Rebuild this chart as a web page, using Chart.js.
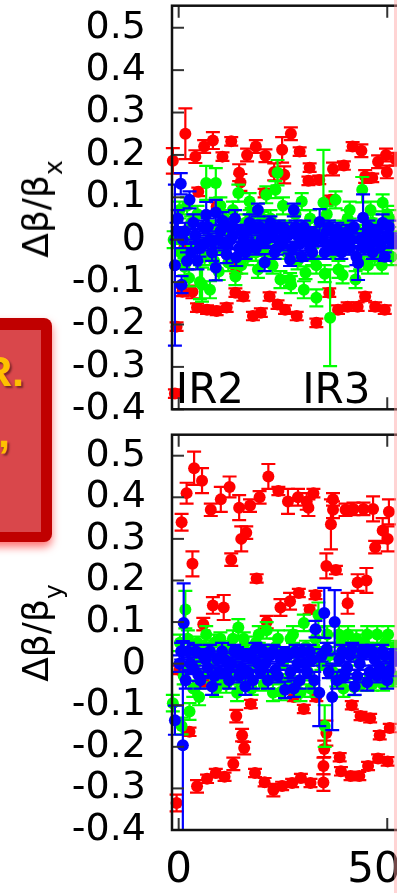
<!DOCTYPE html>
<html>
<head>
<meta charset="utf-8">
<script src="https://cdn.jsdelivr.net/npm/chart.js@4.4.1/dist/chart.umd.min.js"></script>
<style>
  html, body { margin: 0; padding: 0; background: #fff; }
  body { position: relative; width: 397px; height: 893px; overflow: hidden; font-family: 'DejaVu Sans', sans-serif; }
  canvas { position: absolute; left: 0; }
  #topChart { top: -26px; }
  #botChart { top: 403px; }
  .ytitle { position: absolute; left: 36px; transform: translate(-50%, -50%) rotate(-90deg);
            font-size: 36px; line-height: 36px; white-space: nowrap; color: #000; }
  .ytitle sub { font-size: 25px; vertical-align: -14px; line-height: 0; }
  #box { position: absolute; left: -20px; top: 318px; width: 72px; height: 224px; background: #c00000;
         border-radius: 8px; box-shadow: 0 5px 8px rgba(255, 0, 0, 0.55); }
  #boxInner { position: absolute; left: -20px; top: 330px; width: 61px; height: 202px; background: #d9474b; }
  .boxText { position: absolute; font-family: 'Liberation Sans', sans-serif; font-weight: bold; font-size: 43px;
             line-height: 43px; color: #ffc000; text-shadow: 2px 2px 2px rgba(0, 0, 0, 0.45); white-space: nowrap; }
  #edge { position: absolute; left: 394px; top: 0; width: 3px; height: 893px; background: rgba(255, 160, 160, 0.45); }
</style>
</head>
<body>
<canvas id="topChart" width="460" height="467"></canvas>
<canvas id="botChart" width="460" height="490"></canvas>
<div class="ytitle" style="top: 209px;">Δβ/β<sub>x</sub></div>
<div class="ytitle" style="top: 633px;">Δβ/β<sub>y</sub></div>
<div id="box"></div>
<div id="boxInner"></div>
<div class="boxText" style="right: 373px; top: 350px;">R.</div>
<div class="boxText" style="right: 387px; top: 411px;">,</div>
<div id="edge"></div>
<script>
// axis ticks
const xTicks = [0, 500];
const xTickLabels = ['0', '500'];
const yTicks = [-0.4, -0.3, -0.2, -0.1, 0, 0.1, 0.2, 0.3, 0.4, 0.5];
const yTickLabels = ['-0.4', '-0.3', '-0.2', '-0.1', '0', '0.1', '0.2', '0.3', '0.4', '0.5'];
const irLabels = ['IR2', 'IR3'];
const irX = [-7, 296];
const irY = -0.385;

// [position, delta beta / beta, error]  -- horizontal plane
const topRed = [
  [-14, 0.186, 0.03], [16, 0.25, 0.06], [40, 0.196, 0.015], [61, 0.22, 0.015], [82, 0.234, 0.02],
  [105, 0.196, 0.01], [126, 0.232, 0.01], [145, 0.158, 0.02], [164, 0.2, 0.015], [185, 0.22, 0.015],
  [208, 0.198, 0.015], [229, 0.16, 0.02], [248, 0.212, 0.03], [253, 0.153, 0.02], [269, 0.25, 0.015],
  [290, 0.208, 0.01], [314, 0.17, 0.01], [311, 0.139, 0.01], [337, 0.141, 0.01], [370, 0.167, 0.015],
  [396, 0.175, 0.01], [417, 0.22, 0.01], [438, 0.21, 0.015], [447, 0.149, 0.015], [464, 0.146, 0.01],
  [478, 0.184, 0.015], [497, 0.2, 0.015], [499, 0.16, 0.015], [520, 0.19, 0.015],
  [148, 0.135, 0.02], [206, 0.11, 0.01], [47, 0.113, 0.01], [91, 0.078, 0.01], [108, 0.035, 0.01],
  [365, 0.094, 0.01], [14, -0.016, 0.01], [138, -0.07, 0.01], [131, -0.054, 0.01],
  [-5, -0.205, 0.01], [-9, -0.363, 0.01], [9, -0.123, 0.01], [33, -0.123, 0.015], [44, -0.16, 0.01],
  [68, -0.165, 0.01], [91, -0.168, 0.01], [115, -0.16, 0.01], [136, -0.125, 0.01], [155, -0.134, 0.01],
  [178, -0.18, 0.01], [197, -0.172, 0.01], [218, -0.134, 0.01], [237, -0.153, 0.01], [255, -0.165, 0.01],
  [283, -0.18, 0.01], [330, -0.196, 0.01], [361, -0.125, 0.01], [382, -0.165, 0.01], [405, -0.158, 0.01],
  [429, -0.158, 0.01], [447, -0.134, 0.01], [471, -0.158, 0.01], [494, -0.165, 0.01]
];
const topGreen = [
  [-12, 0.0, 0.02], [2, 0.07, 0.02], [14, -0.064, 0.02], [30, 0.04, 0.015], [40, -0.02, 0.02],
  [51, -0.1, 0.04], [56, -0.106, 0.04], [66, 0.134, 0.04], [75, -0.118, 0.02], [80, 0.03, 0.015],
  [89, 0.134, 0.035], [96, -0.075, 0.02], [110, 0.05, 0.02], [119, -0.054, 0.02], [125, 0.01, 0.015],
  [136, -0.087, 0.02], [143, 0.11, 0.02], [160, 0.04, 0.02], [175, 0.06, 0.015], [185, -0.03, 0.02],
  [195, 0.02, 0.015], [210, 0.106, 0.02], [220, 0.05, 0.02], [232, 0.118, 0.02], [237, 0.158, 0.03],
  [244, -0.094, 0.02], [255, 0.03, 0.015], [267, -0.094, 0.015], [269, -0.106, 0.02], [280, 0.06, 0.02],
  [290, 0.0, 0.015], [300, -0.118, 0.02], [304, -0.078, 0.015], [315, 0.05, 0.02], [330, -0.137, 0.02],
  [330, -0.06, 0.02], [347, 0.087, 0.125], [363, -0.184, 0.114], [360, 0.03, 0.015], [376, 0.094, 0.02],
  [383, -0.07, 0.02], [393, -0.083, 0.02], [405, 0.05, 0.02], [415, 0.0, 0.02], [424, -0.094, 0.02],
  [440, 0.118, 0.03], [454, -0.06, 0.02], [465, 0.04, 0.02], [475, -0.02, 0.015], [487, -0.06, 0.02],
  [489, 0.087, 0.02], [505, 0.05, 0.02], [515, 0.0, 0.02],
  [5, -0.03, 0.02], [20, 0.08, 0.02], [25, -0.09, 0.02], [35, 0.0, 0.015], [45, 0.06, 0.02],
  [62, -0.04, 0.02], [70, 0.02, 0.015], [85, -0.05, 0.02], [100, 0.08, 0.02], [105, -0.02, 0.015],
  [115, 0.03, 0.015], [130, 0.07, 0.02], [150, -0.06, 0.02], [155, 0.02, 0.015], [165, -0.04, 0.02],
  [170, 0.09, 0.02], [180, 0.0, 0.015], [190, -0.07, 0.02], [200, 0.05, 0.015], [205, -0.03, 0.02],
  [215, 0.0, 0.015], [225, -0.06, 0.02], [240, 0.03, 0.015], [250, 0.08, 0.02], [260, -0.03, 0.015],
  [275, 0.02, 0.015], [285, -0.05, 0.02], [295, 0.09, 0.02], [310, 0.01, 0.015], [320, -0.04, 0.02],
  [340, 0.02, 0.015], [350, -0.08, 0.02], [355, 0.06, 0.02], [370, -0.03, 0.015], [388, 0.03, 0.015],
  [398, -0.02, 0.015], [410, 0.07, 0.02], [430, 0.02, 0.015], [435, -0.05, 0.02], [448, 0.0, 0.015],
  [460, 0.07, 0.02], [470, -0.04, 0.02], [480, 0.03, 0.015], [495, -0.03, 0.015], [500, 0.06, 0.02],
  [510, -0.04, 0.02]
];
const topBlue = [
  [-9, -0.06, 0.19], [5, 0.132, 0.025], [7, -0.106, 0.02], [-5, 0.02, 0.02], [15, 0.02, 0.02],
  [26, 0.094, 0.02], [30, -0.03, 0.02], [40, 0.01, 0.015], [50, -0.02, 0.02], [58, 0.03, 0.015],
  [66, 0.059, 0.03], [75, 0.0, 0.015], [89, 0.064, 0.03], [89, -0.066, 0.03], [100, 0.02, 0.015],
  [110, -0.01, 0.015], [120, 0.03, 0.02], [130, 0.01, 0.015], [138, -0.042, 0.02], [145, -0.02, 0.015],
  [155, 0.0, 0.015], [165, 0.02, 0.015], [175, -0.01, 0.02], [180, 0.03, 0.015], [190, 0.07, 0.015],
  [198, 0.0, 0.015], [206, -0.054, 0.02], [215, 0.02, 0.015], [225, 0.01, 0.015], [235, -0.02, 0.015],
  [245, 0.0, 0.015], [255, 0.025, 0.015], [267, -0.047, 0.015], [276, 0.07, 0.015], [285, 0.01, 0.015],
  [295, -0.04, 0.01], [305, 0.0, 0.015], [315, -0.02, 0.015], [325, 0.015, 0.015], [338, 0.042, 0.03],
  [345, 0.0, 0.015], [355, 0.02, 0.015], [365, -0.01, 0.015], [375, 0.01, 0.015], [385, -0.015, 0.015],
  [395, 0.005, 0.015], [405, 0.02, 0.015], [415, 0.0, 0.015], [426, -0.04, 0.02], [430, -0.055, 0.04],
  [442, 0.052, 0.055], [450, 0.01, 0.015], [460, -0.01, 0.015], [470, 0.015, 0.015], [480, 0.0, 0.015],
  [489, 0.04, 0.02], [494, -0.04, 0.01], [500, 0.01, 0.015], [510, -0.005, 0.015],
  [-2, 0.05, 0.02], [10, 0.0, 0.02], [20, -0.05, 0.02], [35, 0.04, 0.02], [45, -0.05, 0.02],
  [62, -0.01, 0.015], [70, 0.03, 0.02], [80, -0.03, 0.02], [95, 0.0, 0.02], [105, 0.045, 0.02],
  [115, -0.035, 0.02], [125, 0.0, 0.02], [135, 0.05, 0.02], [150, 0.02, 0.015], [160, -0.03, 0.015],
  [170, 0.04, 0.02], [185, -0.02, 0.015], [195, 0.03, 0.015], [210, 0.0, 0.02], [220, 0.04, 0.015],
  [230, -0.03, 0.015], [240, 0.03, 0.015], [250, -0.01, 0.015], [262, 0.01, 0.015], [272, -0.02, 0.015],
  [280, 0.03, 0.015], [290, -0.01, 0.015], [300, 0.03, 0.015], [310, 0.01, 0.015], [320, -0.03, 0.015],
  [330, 0.0, 0.015], [350, -0.03, 0.015], [360, 0.03, 0.015], [370, -0.02, 0.015], [380, 0.025, 0.015],
  [390, -0.03, 0.015], [400, 0.0, 0.015], [410, -0.02, 0.015], [420, 0.03, 0.015], [435, 0.0, 0.015],
  [445, -0.02, 0.015], [455, 0.03, 0.015], [465, -0.03, 0.015], [475, 0.02, 0.015], [485, -0.015, 0.015],
  [505, 0.03, 0.015], [515, 0.0, 0.015]
];

// vertical plane
const botRed = [
  [7, 0.34, 0.02], [19, 0.41, 0.025], [37, 0.47, 0.04], [56, 0.44, 0.03], [33, 0.24, 0.03],
  [77, 0.37, 0.015], [101, 0.395, 0.03], [122, 0.425, 0.025], [145, 0.375, 0.03], [150, 0.30, 0.03],
  [162, 0.315, 0.015], [126, 0.25, 0.015], [171, 0.38, 0.015], [194, 0.40, 0.015], [187, 0.205, 0.01],
  [82, 0.14, 0.02], [108, 0.135, 0.03], [215, 0.45, 0.03], [239, 0.415, 0.01], [262, 0.39, 0.03],
  [286, 0.40, 0.02], [307, 0.39, 0.02], [323, 0.41, 0.01], [311, 0.375, 0.02], [370, 0.395, 0.015],
  [370, 0.37, 0.02], [365, 0.335, 0.06], [400, 0.37, 0.015], [419, 0.372, 0.015], [443, 0.372, 0.015],
  [466, 0.372, 0.03], [489, 0.32, 0.03], [471, 0.28, 0.015], [504, 0.365, 0.03], [501, 0.30, 0.03],
  [244, 0.135, 0.02], [267, 0.15, 0.02], [288, 0.17, 0.01], [328, 0.165, 0.01], [314, 0.13, 0.01],
  [354, 0.235, 0.03], [377, 0.225, 0.01], [405, 0.145, 0.025], [429, 0.195, 0.02], [450, 0.20, 0.03],
  [211, 0.10, 0.015], [59, 0.095, 0.015],
  [-5, -0.335, 0.02], [44, -0.295, 0.015], [68, -0.277, 0.01], [89, -0.263, 0.01], [110, -0.272, 0.01],
  [131, -0.241, 0.015], [152, -0.172, 0.015], [157, -0.203, 0.015], [138, -0.126, 0.015], [173, -0.097, 0.01],
  [183, -0.263, 0.01], [206, -0.285, 0.01], [227, -0.304, 0.015], [248, -0.294, 0.01], [272, -0.287, 0.01],
  [293, -0.275, 0.01], [316, -0.287, 0.01], [300, -0.109, 0.01], [347, -0.246, 0.02], [347, -0.286, 0.02],
  [349, -0.205, 0.02], [354, -0.167, 0.03], [386, -0.225, 0.01], [389, -0.259, 0.01], [412, -0.27, 0.01],
  [433, -0.27, 0.01], [454, -0.246, 0.01], [478, -0.228, 0.01], [501, -0.235, 0.01], [415, -0.10, 0.01],
  [436, -0.126, 0.01], [459, -0.131, 0.01], [482, -0.172, 0.01], [506, -0.155, 0.01], [26, -0.164, 0.01],
  [2, -0.015, 0.01], [61, -0.044, 0.01], [276, -0.08, 0.01], [330, -0.08, 0.01]
];
const botGreen = [
  [-14, -0.095, 0.02], [7, -0.15, 0.02], [16, 0.13, 0.045], [26, -0.115, 0.02], [30, 0.03, 0.02],
  [40, 0.0, 0.015], [49, -0.08, 0.02], [60, 0.04, 0.015], [72, -0.02, 0.015], [85, 0.05, 0.02],
  [95, -0.03, 0.015], [108, 0.02, 0.015], [114, -0.05, 0.02], [125, 0.04, 0.015], [135, 0.0, 0.02],
  [143, 0.087, 0.02], [150, -0.04, 0.015], [162, 0.03, 0.02], [175, -0.06, 0.015], [185, 0.05, 0.015],
  [198, 0.0, 0.02], [211, 0.08, 0.02], [220, -0.03, 0.015], [232, 0.04, 0.02], [245, -0.068, 0.02],
  [255, 0.02, 0.015], [268, 0.06, 0.02], [280, -0.05, 0.02], [300, 0.098, 0.02], [310, -0.02, 0.015],
  [322, 0.03, 0.015], [335, 0.117, 0.03], [350, -0.15, 0.05], [362, 0.02, 0.02], [378, -0.04, 0.015],
  [390, 0.05, 0.02], [400, -0.02, 0.015], [412, 0.04, 0.02], [420, -0.056, 0.02], [432, 0.01, 0.015],
  [445, 0.05, 0.02], [458, -0.03, 0.015], [470, 0.03, 0.015], [482, -0.01, 0.02], [495, 0.05, 0.015],
  [508, 0.0, 0.02], [520, 0.04, 0.015],
  [3, 0.05, 0.02], [12, -0.03, 0.02], [22, 0.06, 0.02], [35, -0.06, 0.02], [45, 0.05, 0.015],
  [55, -0.03, 0.015], [66, 0.07, 0.02], [78, 0.01, 0.015], [90, -0.06, 0.02], [100, 0.06, 0.015],
  [120, -0.02, 0.015], [130, 0.06, 0.02], [140, -0.07, 0.02], [156, 0.06, 0.015], [168, -0.02, 0.015],
  [180, 0.0, 0.015], [192, 0.07, 0.02], [204, -0.05, 0.015], [215, 0.03, 0.015], [226, -0.07, 0.02],
  [238, 0.06, 0.02], [250, 0.0, 0.015], [262, -0.04, 0.015], [274, 0.07, 0.02], [286, 0.02, 0.015],
  [292, -0.07, 0.02], [305, 0.04, 0.015], [316, -0.06, 0.02], [328, 0.06, 0.02], [342, 0.0, 0.015],
  [356, 0.07, 0.02], [370, -0.02, 0.015], [384, 0.07, 0.02], [395, -0.06, 0.02], [406, 0.07, 0.02],
  [426, 0.06, 0.02], [438, -0.05, 0.015], [452, 0.07, 0.02], [464, -0.05, 0.015], [476, 0.07, 0.02],
  [490, -0.05, 0.015], [502, 0.07, 0.02], [514, -0.04, 0.015]
];
const botBlue = [
  [-9, -0.136, 0.035], [12, 0.098, 0.095], [10, -0.196, 0.25], [2, 0.0, 0.02], [22, 0.03, 0.02],
  [35, -0.01, 0.015], [47, -0.027, 0.015], [58, 0.02, 0.015], [70, -0.01, 0.02], [80, -0.055, 0.02],
  [92, 0.01, 0.015], [104, 0.03, 0.02], [115, -0.02, 0.015], [127, 0.0, 0.015], [140, 0.025, 0.015],
  [150, -0.01, 0.015], [160, -0.055, 0.02], [172, 0.015, 0.015], [184, 0.035, 0.015], [196, -0.02, 0.015],
  [208, 0.0, 0.015], [220, 0.02, 0.015], [232, -0.015, 0.015], [245, 0.01, 0.015], [255, -0.063, 0.02],
  [262, 0.02, 0.015], [276, -0.06, 0.02], [285, 0.0, 0.015], [296, 0.03, 0.015], [308, -0.02, 0.015],
  [320, 0.01, 0.015], [328, 0.083, 0.02], [337, -0.07, 0.08], [349, 0.122, 0.06], [360, -0.02, 0.015],
  [368, -0.08, 0.08], [374, 0.10, 0.077], [385, 0.01, 0.015], [398, -0.03, 0.015], [410, 0.02, 0.015],
  [422, -0.055, 0.02], [434, 0.0, 0.015], [446, 0.025, 0.015], [458, -0.02, 0.015], [470, 0.01, 0.015],
  [482, -0.01, 0.015], [494, 0.02, 0.015], [506, -0.015, 0.015], [518, 0.01, 0.015],
  [6, 0.03, 0.02], [17, -0.04, 0.02], [28, 0.0, 0.015], [41, 0.03, 0.015], [52, -0.04, 0.02],
  [64, 0.01, 0.015], [75, 0.03, 0.015], [86, -0.03, 0.02], [98, -0.02, 0.015], [110, 0.01, 0.015],
  [121, -0.04, 0.02], [133, 0.03, 0.015], [145, -0.03, 0.015], [155, 0.02, 0.015], [166, -0.02, 0.015],
  [178, -0.04, 0.02], [190, 0.0, 0.015], [202, 0.03, 0.015], [214, -0.04, 0.02], [226, 0.03, 0.015],
  [238, -0.03, 0.015], [250, 0.025, 0.015], [268, -0.02, 0.015], [280, 0.03, 0.015], [290, -0.04, 0.02],
  [302, 0.0, 0.015], [314, 0.03, 0.015], [325, -0.04, 0.02], [343, 0.02, 0.015], [355, 0.035, 0.015],
  [380, -0.04, 0.02], [392, 0.03, 0.015], [404, -0.01, 0.015], [416, 0.035, 0.015], [428, -0.03, 0.015],
  [440, 0.03, 0.015], [452, -0.045, 0.02], [464, 0.03, 0.015], [476, -0.03, 0.015], [488, 0.03, 0.015],
  [500, -0.04, 0.02], [512, 0.02, 0.015]
];

// error bars drawn under each dataset's points
const errorBars = {
  id: 'errorBars',
  beforeDatasetDraw(chart, args) {
    const ds = chart.data.datasets[args.index];
    const xs = chart.scales.x, ys = chart.scales.y, a = chart.chartArea, ctx = chart.ctx;
    ctx.save();
    ctx.beginPath();
    ctx.rect(a.left - 10, a.top, a.right - a.left + 10, a.bottom - a.top);
    ctx.clip();
    ctx.strokeStyle = ds.backgroundColor;
    ctx.lineWidth = 2.2;
    ds.err.forEach(function(e, i) {
      const p = ds.data[i];
      const px = xs.getPixelForValue(p.x);
      const y1 = ys.getPixelForValue(p.y + e), y2 = ys.getPixelForValue(p.y - e);
      ctx.beginPath();
      ctx.moveTo(px, y1); ctx.lineTo(px, y2);
      ctx.moveTo(px - 7, y1); ctx.lineTo(px + 7, y1);
      ctx.moveTo(px - 7, y2); ctx.lineTo(px + 7, y2);
      ctx.stroke();
    });
    ctx.restore();
  }
};

// gnuplot style box with inward ticks, plus IR labels
const frame = {
  id: 'frame',
  afterDatasetsDraw(chart) {
    const xs = chart.scales.x, ys = chart.scales.y, a = chart.chartArea, ctx = chart.ctx;
    ctx.save();
    ctx.strokeStyle = '#333';
    ctx.lineWidth = 2;
    yTicks.forEach(function(v) {
      const py = ys.getPixelForValue(v);
      ctx.beginPath(); ctx.moveTo(a.left, py); ctx.lineTo(a.left + 12, py); ctx.stroke();
    });
    xTicks.forEach(function(v) {
      const px = xs.getPixelForValue(v);
      ctx.beginPath();
      ctx.moveTo(px, a.bottom); ctx.lineTo(px, a.bottom - 12);
      ctx.moveTo(px, a.top); ctx.lineTo(px, a.top + 12);
      ctx.stroke();
    });
    ctx.strokeStyle = '#111';
    ctx.lineWidth = 2.5;
    ctx.strokeRect(a.left, a.top, a.right - a.left, a.bottom - a.top);
    if (chart.options.plugins.frame.ir) {
      ctx.fillStyle = '#000';
      ctx.font = '42px "DejaVu Sans"';
      ctx.textAlign = 'left';
      ctx.textBaseline = 'alphabetic';
      irLabels.forEach(function(t, i) {
        ctx.fillText(t, xs.getPixelForValue(irX[i]), ys.getPixelForValue(irY));
      });
    }
    ctx.restore();
  }
};

function series(arr, color) {
  return {
    data: arr.map(function(p) { return {x: p[0], y: p[1]}; }),
    err: arr.map(function(p) { return p[2]; }),
    backgroundColor: color,
    borderWidth: 0,
    pointRadius: 6,
    pointHoverRadius: 6,
    clip: {left: 10, top: 0, right: 0, bottom: 0}
  };
}

// the y scale reserves ticks.padding plus half a label above and below the plot box,
// so the canvases are shifted to put the boxes where the slide has them
function makeChart(id, red, green, blue, yMax, showX, ir) {
  return new Chart(document.getElementById(id), {
    type: 'scatter',
    data: {
      // first dataset is drawn last, so blue ends up on top
      datasets: [series(blue, '#0000ff'), series(green, '#00ff00'), series(red, '#ff0000')]
    },
    options: {
      responsive: false,
      animation: false,
      devicePixelRatio: 1,
      layout: {padding: 0},
      plugins: {legend: {display: false}, tooltip: {enabled: false}, frame: {ir: ir}},
      scales: {
        x: {
          type: 'linear', min: -16, max: 660, display: showX,
          afterBuildTicks: function(s) { s.ticks = xTicks.map(function(v) { return {value: v}; }); },
          afterFit: function(s) { if (showX) s.height = 63; },
          grid: {display: false, drawTicks: false},
          border: {display: false},
          ticks: {
            autoSkip: false, maxRotation: 0, padding: 16, color: '#000',
            font: {family: 'DejaVu Sans', size: 42},
            callback: function(v, i) { return xTickLabels[i]; }
          }
        },
        y: {
          min: -0.4, max: yMax,
          afterBuildTicks: function(s) { s.ticks = yTicks.map(function(v) { return {value: v}; }); },
          afterFit: function(s) { s.width = 172; },
          grid: {display: false, drawTicks: false},
          border: {display: false},
          ticks: {
            autoSkip: false, padding: 26, color: '#000',
            font: {family: 'DejaVu Sans', size: 38, lineHeight: 0.3},
            callback: function(v, i) { return yTickLabels[i]; }
          }
        }
      }
    },
    plugins: [errorBars, frame]
  });
}

makeChart('topChart', topRed, topGreen, topBlue, 0.552, false, true);
makeChart('botChart', botRed, botGreen, botBlue, 0.5505, true, false);
</script>
</body>
</html>
